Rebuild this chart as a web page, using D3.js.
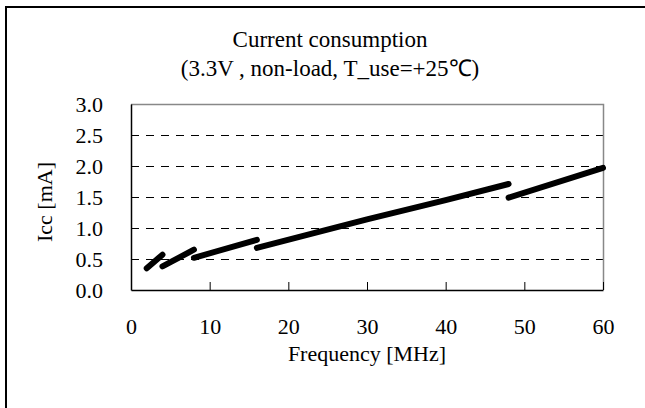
<!DOCTYPE html>
<html>
<head>
<meta charset="utf-8">
<script src="https://d3js.org/d3.v7.min.js"></script>
<style>
  html, body { margin: 0; padding: 0; background: #fff; overflow: hidden; }
  svg { display: block; }
  text { font-family: "Liberation Serif", "Times New Roman", serif; fill: #000; }
</style>
</head>
<body>
<div id="chart-area"></div>
<script>
  // Data (frequency in MHz, Icc in mA), one array per range
  var seg1 = [{f: 2, icc: 0.35}, {f: 4, icc: 0.57}];
  var seg2 = [{f: 4, icc: 0.38}, {f: 8, icc: 0.65}];
  var seg3 = [{f: 8, icc: 0.52}, {f: 16, icc: 0.81}];
  var seg4 = [{f: 16, icc: 0.68}, {f: 30, icc: 1.14}, {f: 40, icc: 1.45}, {f: 48, icc: 1.71}];
  var seg5 = [{f: 48, icc: 1.49}, {f: 60, icc: 1.97}];
  var segments = [seg1, seg2, seg3, seg4, seg5];

  var xTicks = [0, 10, 20, 30, 40, 50, 60];
  var yTicks = [0, 0.5, 1.0, 1.5, 2.0, 2.5, 3.0];
  var titleLines = ['Current consumption', '(3.3V , non-load, T_use=+25\u2103)'];
  var xTitle = 'Frequency [MHz]';
  var yTitle = 'Icc [mA]';

  var W = 645, H = 408;
  var margin = {left: 131, right: 42, top: 104, bottom: 118};
  var width = W - margin.left - margin.right,
      height = H - margin.top - margin.bottom;

  var svg = d3.select('#chart-area')
    .append('svg')
    .attr('width', W)
    .attr('height', H);

  // outer frame: only its top and left edges fall inside the picture
  svg.append('path')
    .attr('d', 'M6,' + H + 'V7H' + W)
    .attr('fill', 'none')
    .attr('stroke', '#000')
    .attr('stroke-width', 2);

  var g = svg.append('g')
    .attr('transform', 'translate(' + margin.left + ',' + margin.top + ')');

  var x = d3.scaleLinear().domain([0, 60]).range([0, width]);
  var y = d3.scaleLinear().domain([0, 3]).range([height, 0]);

  // Titles
  svg.selectAll('.title')
    .data(titleLines)
    .enter().append('text')
    .attr('class', 'title')
    .attr('x', 330)
    .attr('y', function(d, i) { return 47 + i * 29; })
    .attr('font-size', '23px')
    .attr('text-anchor', 'middle')
    .text(function(d) { return d; });

  // dashed gridlines
  g.selectAll('.grid')
    .data(yTicks.filter(function(d) { return d > 0 && d < 3; }))
    .enter().append('line')
    .attr('class', 'grid')
    .attr('x1', 0).attr('x2', width)
    .attr('y1', function(d) { return Math.round(y(d)) + 0.5; })
    .attr('y2', function(d) { return Math.round(y(d)) + 0.5; })
    .attr('stroke', '#000')
    .attr('stroke-width', 1)
    .attr('stroke-dasharray', '8,7');

  // plot frame: top/right gray
  g.append('path')
    .attr('d', 'M0,0.5H' + (width + 0.5) + 'V' + height)
    .attr('fill', 'none')
    .attr('stroke', '#888')
    .attr('stroke-width', 1.5);

  // x axis
  var xAxisCall = d3.axisBottom(x)
    .tickValues(xTicks)
    .tickSizeInner(-8)
    .tickSizeOuter(0)
    .tickPadding(28)
    .tickFormat(d3.format('d'));
  var xAxis = g.append('g')
    .attr('class', 'x axis')
    .attr('transform', 'translate(0,' + height + ')')
    .call(xAxisCall);
  xAxis.select('.domain').attr('stroke', '#000').attr('stroke-width', 1.5);
  xAxis.selectAll('.tick line').attr('stroke', '#000')
    .attr('display', function(d) { return d === 0 ? 'none' : null; });
  xAxis.selectAll('.tick text').attr('font-size', '22px')
    .attr('font-family', '"Liberation Serif", serif').attr('fill', '#000');

  // y axis
  var yAxisCall = d3.axisLeft(y)
    .tickValues(yTicks)
    .tickSize(0)
    .tickPadding(28)
    .tickFormat(d3.format('.1f'));
  var yAxis = g.append('g')
    .attr('class', 'y axis')
    .call(yAxisCall);
  yAxis.select('.domain').attr('stroke', '#000').attr('stroke-width', 1.5);
  yAxis.selectAll('.tick text').attr('font-size', '22px')
    .attr('font-family', '"Liberation Serif", serif').attr('fill', '#000');

  // axis titles
  g.append('text')
    .attr('x', width / 2)
    .attr('y', height + 71)
    .attr('font-size', '22px')
    .attr('text-anchor', 'middle')
    .text(xTitle);
  g.append('text')
    .attr('transform', 'rotate(-90)')
    .attr('x', -height / 2 - 5)
    .attr('y', -margin.left + 52)
    .attr('font-size', '22px')
    .attr('text-anchor', 'middle')
    .text(yTitle);

  // data lines
  var line = d3.line()
    .x(function(d) { return x(d.f); })
    .y(function(d) { return y(d.icc); });
  g.selectAll('.seg')
    .data(segments)
    .enter().append('path')
    .attr('class', 'seg')
    .attr('fill', 'none')
    .attr('stroke', '#000')
    .attr('stroke-width', 6)
    .attr('stroke-linecap', 'round')
    .attr('d', line);
</script>
</body>
</html>
